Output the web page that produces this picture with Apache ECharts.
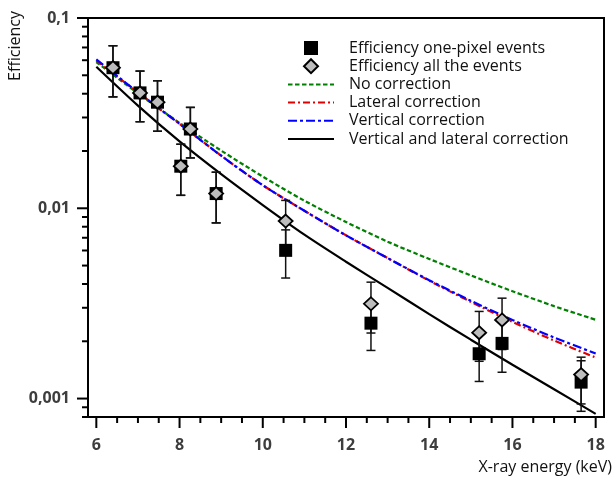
<!DOCTYPE html>
<html>
<head>
<meta charset="utf-8">
<script src="https://cdn.jsdelivr.net/npm/echarts@6/dist/echarts.min.js"></script>
<style>
  html, body { margin: 0; padding: 0; background: #fff; }
  #chart { width: 615px; height: 477px; }
</style>
</head>
<body>
<div id="chart"></div>
<script>
// measured points
const energy = [6.4, 7.05, 7.47, 8.03, 8.26, 8.88, 10.55, 12.6, 15.2, 15.75, 17.65];
const onePixel = [0.0548, 0.0404, 0.0361, 0.01664, 0.0261, 0.01195, 0.00601, 0.00249, 0.00172, 0.00195, 0.00122];
const onePixelLow = [0.0385, 0.0285, 0.0254, 0.0117, 0.0184, 0.00838, 0.0043, 0.00179, 0.00123, 0.001375, 0.000857];
const onePixelHigh = [0.0715, 0.0526, 0.0468, 0.0217, 0.0339, 0.01547, 0.0077, 0.00319, 0.00221, 0.00253, 0.00158];
const allEvents = [0.0548, 0.0404, 0.0361, 0.01664, 0.0261, 0.01195, 0.00857, 0.00315, 0.00222, 0.00259, 0.001336];
const allLow = [0.0385, 0.0285, 0.0254, 0.0117, 0.0184, 0.00838, 0.0062, 0.00221, 0.00157, 0.00181, 0.000937];
const allHigh = [0.0715, 0.0526, 0.0468, 0.0217, 0.0339, 0.01547, 0.0110, 0.00409, 0.00287, 0.00337, 0.00165];

// model curves
const curveEnergy = [6, 7, 8, 9, 10, 11, 12, 13, 14, 15, 16, 17, 18];
const noCorrection = [0.05868, 0.04016, 0.02812, 0.0201, 0.01468, 0.01096, 0.008472, 0.006679, 0.005416, 0.00444, 0.003666, 0.00306, 0.002595];
const lateralCorrection = [0.05976, 0.04064, 0.02778, 0.01889, 0.01322, 0.009701, 0.007209, 0.005475, 0.004164, 0.003224, 0.002527, 0.00202, 0.001643];
const verticalCorrection = [0.06063, 0.04064, 0.02778, 0.01889, 0.01322, 0.009701, 0.007209, 0.005475, 0.004189, 0.003264, 0.002589, 0.002095, 0.001725];
const bothCorrection = [0.05542, 0.03463, 0.02245, 0.0151, 0.01039, 0.007263, 0.005235, 0.003816, 0.002778, 0.002039, 0.001506, 0.001119, 0.000831];

// axes
const xMajorTicks = [6, 8, 10, 12, 14, 16, 18];
const xMinorTicks = [6.5, 7, 7.5, 8.5, 9, 9.5, 10.5, 11, 11.5, 12.5, 13, 13.5, 14.5, 15, 15.5, 16.5, 17, 17.5];
const yMajorTicks = [0.001, 0.01, 0.1];
const yMinorTicks = [0.0008, 0.0009, 0.002, 0.003, 0.004, 0.005, 0.006, 0.007, 0.008, 0.009,
    0.02, 0.03, 0.04, 0.05, 0.06, 0.07, 0.08, 0.09];

const X_MIN = 5.8, X_MAX = 18.2, Y_MIN = 0.0008, Y_MAX = 0.1;

const tickFont = { fontFamily: 'Open Sans', fontWeight: 'bold', fontSize: 16, color: '#3d3d3d' };

function tickSeries(values, axis, len) {
    return {
        type: 'custom',
        name: axis + len,
        clip: false,
        silent: true,
        z: 10,
        data: values.map(v => axis === 'x' ? [v, Y_MIN] : [X_MIN, v]),
        renderItem: function (params, api) {
            const p = api.coord([api.value(0), api.value(1)]);
            const shape = axis === 'x'
                ? { x1: p[0], y1: p[1], x2: p[0], y2: p[1] + len }
                : { x1: p[0] - len, y1: p[1], x2: p[0], y2: p[1] };
            return { type: 'line', shape: shape, style: { stroke: '#000', lineWidth: 2 } };
        }
    };
}

function errorSeries(name, low, high, z) {
    return {
        type: 'custom',
        name: name,
        clip: false,
        silent: true,
        z: z,
        encode: { x: 0, y: [1, 2] },
        data: energy.map((e, i) => [e, low[i], high[i]]),
        renderItem: function (params, api) {
            const lo = api.coord([api.value(0), api.value(1)]);
            const hi = api.coord([api.value(0), api.value(2)]);
            const st = { stroke: '#111', lineWidth: 1.5 };
            return {
                type: 'group',
                children: [
                    { type: 'line', shape: { x1: lo[0], y1: lo[1], x2: hi[0], y2: hi[1] }, style: st },
                    { type: 'line', shape: { x1: lo[0] - 4.5, y1: lo[1], x2: lo[0] + 4.5, y2: lo[1] }, style: st },
                    { type: 'line', shape: { x1: hi[0] - 4.5, y1: hi[1], x2: hi[0] + 4.5, y2: hi[1] }, style: st }
                ]
            };
        }
    };
}

function curve(name, values, color, dash) {
    return {
        type: 'line',
        name: name,
        data: curveEnergy.map((e, i) => [e, values[i]]),
        smooth: 0.3,
        symbol: 'none',
        z: 2,
        lineStyle: { color: color, width: 2.2, type: dash },
        itemStyle: { color: color }
    };
}

// line entries of the legend show only the dashed line
const lineLegend = name => ({ name: name, itemStyle: { opacity: 0 } });

const chart = echarts.init(document.getElementById('chart'));
chart.setOption({
    animation: false,
    backgroundColor: '#fff',
    grid: { left: 88, right: 11, top: 18, bottom: 60, show: true, borderColor: '#000', borderWidth: 2 },
    xAxis: {
        type: 'value',
        min: X_MIN,
        max: X_MAX,
        axisLine: { lineStyle: { color: '#000', width: 2 } },
        axisTick: { show: false },
        splitLine: { show: false },
        axisLabel: Object.assign({ customValues: xMajorTicks, margin: 20 }, tickFont)
    },
    yAxis: {
        type: 'log',
        min: Y_MIN,
        max: Y_MAX,
        axisLine: { lineStyle: { color: '#000', width: 2 } },
        axisTick: { show: false },
        splitLine: { show: false },
        axisLabel: Object.assign({
            margin: 18,
            formatter: function (v) {
                const r = Number(Number(v).toPrecision(6));
                return yMajorTicks.indexOf(r) >= 0 ? String(r).replace('.', ',') : '';
            }
        }, tickFont)
    },
    legend: {
        orient: 'vertical',
        left: 287,
        top: 40,
        padding: 0,
        itemWidth: 46,
        itemHeight: 14,
        itemGap: 2.2,
        textStyle: { fontFamily: 'Open Sans', fontSize: 16, color: '#111', padding: [0, 0, 0, 10] },
        data: [
            { name: 'Efficiency one-pixel events', icon: 'path://M0,0L10,0L10,10L0,10Z' },
            { name: 'Efficiency all the events', icon: 'path://M5,0L10,5L5,10L0,5Z' },
            lineLegend('No correction'),
            lineLegend('Lateral correction'),
            lineLegend('Vertical correction'),
            lineLegend('Vertical and lateral correction')
        ]
    },
    graphic: [
        {
            type: 'text', x: 15, y: 46, rotation: Math.PI / 2,
            style: { text: 'Efficiency', fontFamily: 'Open Sans', fontSize: 16, fill: '#111', align: 'center', verticalAlign: 'middle' }
        },
        {
            type: 'text', x: 612, y: 467,
            style: { text: 'X-ray energy (keV)', fontFamily: 'Open Sans', fontSize: 16, fill: '#111', align: 'right', verticalAlign: 'middle' }
        }
    ],
    series: [
        tickSeries(xMajorTicks, 'x', 11),
        tickSeries(xMinorTicks, 'x', 6),
        tickSeries(yMajorTicks, 'y', 11),
        tickSeries(yMinorTicks, 'y', 6),
        curve('No correction', noCorrection, '#008000', [4.5, 2.5]),
        curve('Lateral correction', lateralCorrection, '#e00000', [7, 3, 2, 3]),
        curve('Vertical correction', verticalCorrection, '#0000ff', [9, 3, 3, 3]),
        curve('Vertical and lateral correction', bothCorrection, '#000', 'solid'),
        errorSeries('err one', onePixelLow, onePixelHigh, 3),
        errorSeries('err all', allLow, allHigh, 3),
        {
            type: 'scatter',
            name: 'Efficiency one-pixel events',
            data: energy.map((e, i) => [e, onePixel[i]]),
            symbol: 'rect',
            symbolSize: 13,
            z: 4,
            itemStyle: { color: '#000', opacity: 1 }
        },
        {
            type: 'scatter',
            name: 'Efficiency all the events',
            data: energy.map((e, i) => [e, allEvents[i]]),
            symbol: 'diamond',
            symbolSize: [14, 13],
            z: 5,
            itemStyle: { color: '#bdbdbd', borderColor: '#000', borderWidth: 1.8, opacity: 1 }
        }
    ]
});
</script>
</body>
</html>
